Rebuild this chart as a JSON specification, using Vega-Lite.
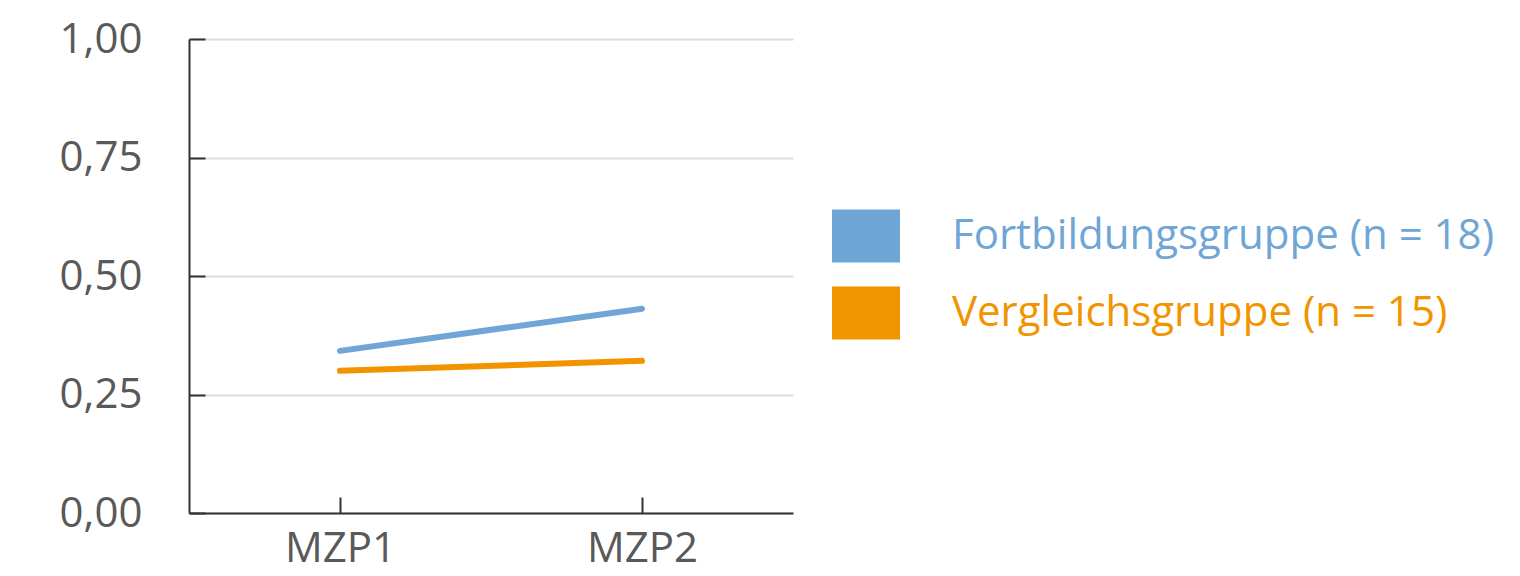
{
  "$schema": "https://vega.github.io/schema/vega-lite/v6.json",
  "autosize": {"type": "none"},
  "width": 604,
  "height": 474,
  "padding": {"left": 189, "top": 39, "right": 727, "bottom": 63},
  "background": "white",
  "data": {
    "values": [
      {"zeitpunkt": "MZP1", "gruppe": "Fortbildungsgruppe", "wert": 0.342},
      {"zeitpunkt": "MZP2", "gruppe": "Fortbildungsgruppe", "wert": 0.431},
      {"zeitpunkt": "MZP1", "gruppe": "Vergleichsgruppe", "wert": 0.300},
      {"zeitpunkt": "MZP2", "gruppe": "Vergleichsgruppe", "wert": 0.321}
    ]
  },
  "mark": {"type": "line", "strokeWidth": 6, "strokeCap": "round"},
  "encoding": {
    "x": {
      "field": "zeitpunkt",
      "type": "ordinal",
      "scale": {"type": "point", "padding": 0.5},
      "axis": {
        "title": null,
        "labelAngle": 0,
        "labelFont": "Open Sans",
        "labelFontSize": 42,
        "labelColor": "#595959",
        "labelPadding": 31,
        "tickSize": -16,
        "tickColor": "#333333",
        "tickWidth": 2,
        "domainColor": "#333333",
        "domainWidth": 2,
        "grid": false
      }
    },
    "y": {
      "field": "wert",
      "type": "quantitative",
      "scale": {"domain": [0, 1], "nice": false},
      "axis": {
        "title": null,
        "values": [0, 0.25, 0.5, 0.75, 1],
        "labelExpr": "replace(format(datum.value, '.2f'), '.', ',')",
        "labelFont": "Open Sans",
        "labelFontSize": 42,
        "labelColor": "#595959",
        "labelPadding": 63,
        "tickSize": -16,
        "tickColor": "#333333",
        "tickWidth": 2,
        "domainColor": "#333333",
        "domainWidth": 2,
        "grid": true,
        "gridColor": "#dddddd",
        "gridWidth": 2
      }
    },
    "color": {
      "field": "gruppe",
      "type": "nominal",
      "scale": {"domain": ["Fortbildungsgruppe", "Vergleichsgruppe"], "range": ["#6FA6D6", "#F29400"]},
      "legend": {
        "title": null,
        "orient": "none",
        "legendX": 643,
        "legendY": 163,
        "symbolType": "M-1,-0.78H1V0.78H-1Z",
        "symbolSize": 4624,
        "symbolStrokeWidth": 0,
        "symbolOpacity": 1,
        "labelFont": "Open Sans",
        "labelFontSize": 42,
        "labelOffset": 52,
        "labelLimit": 800,
        "rowPadding": 16,
        "labelExpr": "datum.label == 'Fortbildungsgruppe' ? 'Fortbildungsgruppe (n = 18)' : 'Vergleichsgruppe (n = 15)'",
        "encode": {
          "labels": {"update": {"fill": {"scale": "color", "field": "value"}}},
          "symbols": {"update": {"fill": {"scale": "color", "field": "value"}, "strokeWidth": {"value": 0}}}
        }
      }
    }
  },
  "config": {"view": {"stroke": null}}
}
